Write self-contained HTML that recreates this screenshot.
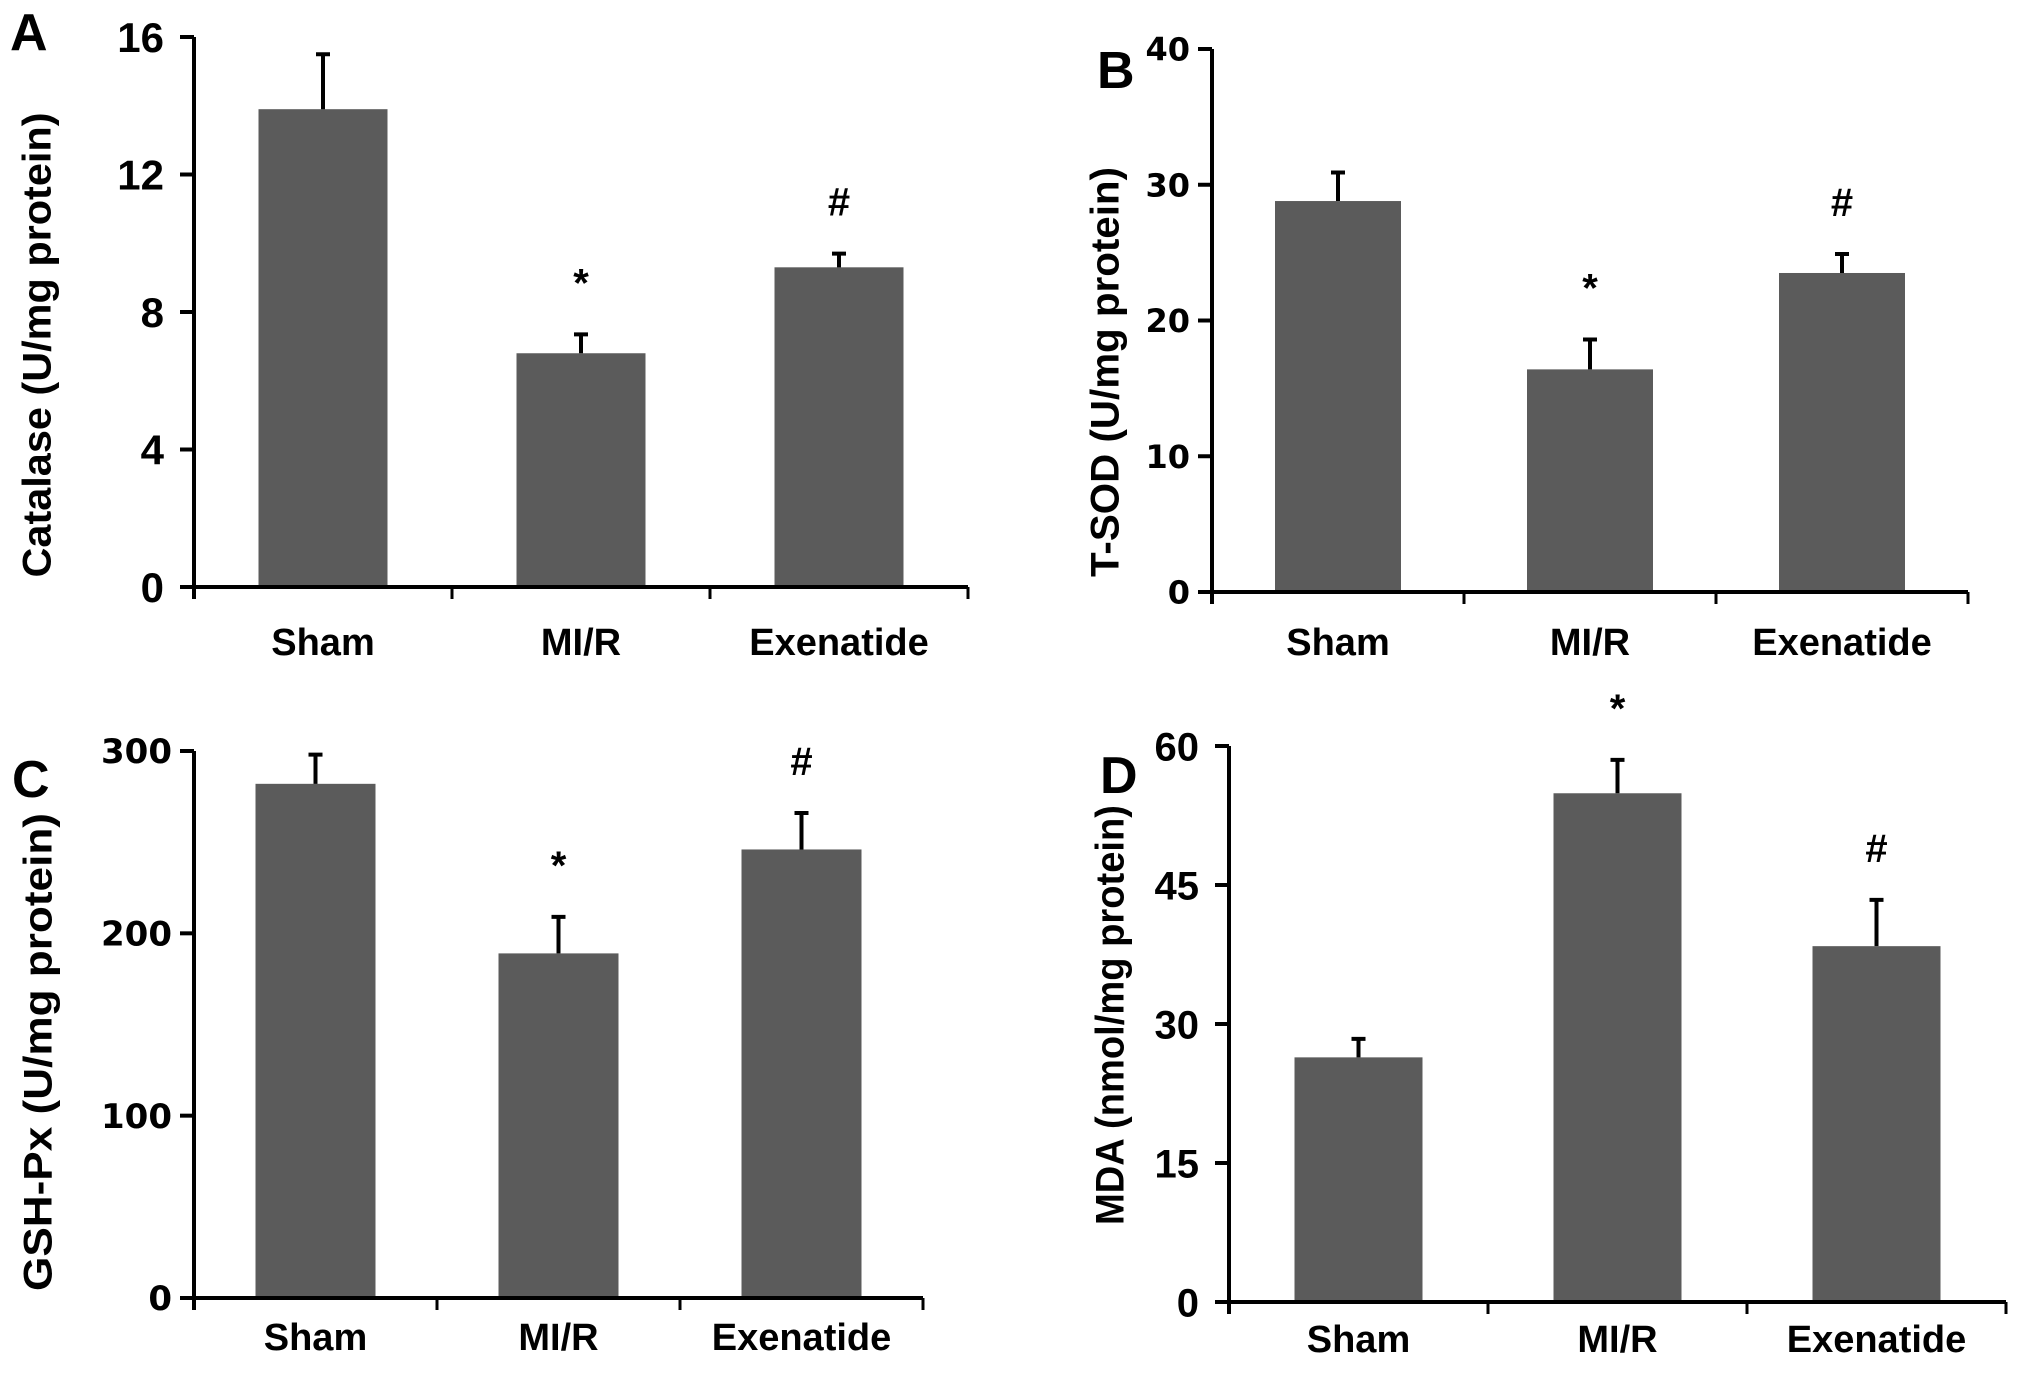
<!DOCTYPE html>
<html><head><meta charset="utf-8"><style>
html,body{margin:0;padding:0;background:#fff;}
svg{display:block;font-family:"Liberation Sans",Arial,sans-serif;font-weight:bold;}
</style></head><body>
<svg id="fig" width="2031" height="1378" viewBox="0 0 2031 1378" xmlns="http://www.w3.org/2000/svg"></svg>
<script>
const categories = ["Sham", "MI/R", "Exenatide"];
const catalaseValues = [13.9, 6.8, 9.3];
const catalaseErrors = [1.6, 0.55, 0.4];
const catalaseMarks = ["", "*", "#"];
const catalaseTicks = [0, 4, 8, 12, 16];
const sodValues = [28.8, 16.4, 23.5];
const sodErrors = [2.1, 2.2, 1.4];
const sodMarks = ["", "*", "#"];
const sodTicks = [0, 10, 20, 30, 40];
const gshValues = [282, 189, 246];
const gshErrors = [16, 20, 20];
const gshMarks = ["", "*", "#"];
const gshTicks = [0, 100, 200, 300];
const mdaValues = [26.4, 54.9, 38.4];
const mdaErrors = [2.0, 3.6, 5.0];
const mdaMarks = ["", "*", "#"];
const mdaTicks = [0, 15, 30, 45, 60];

const NS = "http://www.w3.org/2000/svg";
const svg = document.getElementById("fig");
function mk(tag, attrs, parent) {
  const e = document.createElementNS(NS, tag);
  for (const k in attrs) e.setAttribute(k, attrs[k]);
  (parent || svg).appendChild(e);
  return e;
}

const panels = [
  {id:"a", letter:"A", lx:10, ly:50, title:"Catalase (U/mg protein)", tx:40, ty:345, tlen:465,
   ax:194, y0:587, y1:37, catW:258, barW:129, values:catalaseValues, errors:catalaseErrors, marks:catalaseMarks, ticks:catalaseTicks, labY:655, markOff:[0,38,38], tfont:'"Liberation Sans", sans-serif', tsize:42, tgap:30},
  {id:"b", letter:"B", lx:1097, ly:88, title:"T-SOD (U/mg protein)", tx:1108, ty:372, tlen:410,
   ax:1212, y0:592, y1:49, catW:252, barW:126, values:sodValues, errors:sodErrors, marks:sodMarks, ticks:sodTicks, labY:655, markOff:[0,38,38], tfont:'"DejaVu Sans", sans-serif', tsize:32, tgap:22},
  {id:"c", letter:"C", lx:12, ly:797, title:"GSH-Px (U/mg protein)", tx:41, ty:1052, tlen:478,
   ax:194, y0:1298, y1:751, catW:243, barW:120, values:gshValues, errors:gshErrors, marks:gshMarks, ticks:gshTicks, labY:1350, markOff:[0,38,38], tfont:'"DejaVu Sans", sans-serif', tsize:34, tgap:22},
  {id:"d", letter:"D", lx:1100, ly:793, title:"MDA (nmol/mg protein)", tx:1113, ty:1015, tlen:420,
   ax:1229, y0:1302, y1:746, catW:259, barW:128, values:mdaValues, errors:mdaErrors, marks:mdaMarks, ticks:mdaTicks, labY:1352, markOff:[0,38,38], tfont:'"Liberation Sans", sans-serif', tsize:40, tgap:30}
];

panels.forEach(p => {
  const g = mk("g", {});
  
  
  const maxV = p.ticks[p.ticks.length - 1];
  const yS = v => p.y0 - (v / maxV) * (p.y0 - p.y1);
  const xC = i => p.ax + p.catW * (i + 0.5);

  const L = mk("text", {x:p.lx, y:p.ly, "font-size":52, fill:"#000"}, g);
  L.textContent = p.letter;
  
  

  const T = mk("text", {x:p.tx, y:p.ty, "font-size":40, fill:"#000", "text-anchor":"middle",
    textLength:p.tlen, lengthAdjust:"spacingAndGlyphs",
    transform:`rotate(-90 ${p.tx} ${p.ty})`, "dominant-baseline":"middle"}, g);
  T.textContent = p.title;
  
  

  p.values.forEach((v, i) => {
    const x = xC(i) - p.barW / 2;
    const r = mk("rect", {x:x, y:yS(v), width:p.barW, height:p.y0 - yS(v), fill:"#5b5b5b"}, g);
    
    
    const top = yS(v + p.errors[i]);
    const e = mk("path", {d:`M${xC(i)},${yS(v)}V${top}M${xC(i)-7},${top}H${xC(i)+7}`, stroke:"#000", "stroke-width":4, fill:"none"}, g);
    
    
    const m = p.marks[i];
    if (m) {
      const t = mk("text", {x:xC(i), y:top - p.markOff[i], "font-size":40, "text-anchor":"middle", fill:"#000"}, g);
      t.textContent = m;
      
      
    }
  });

  const endX = p.ax + p.catW * categories.length;
  const ya = mk("line", {x1:p.ax, y1:p.y1, x2:p.ax, y2:p.y0 + 12, stroke:"#000", "stroke-width":4}, g);
  
  
  const xa = mk("line", {x1:p.ax - 14, y1:p.y0, x2:endX, y2:p.y0, stroke:"#000", "stroke-width":4}, g);
  
  

  p.ticks.forEach(t => {
    const y = yS(t);
    mk("line", {x1:p.ax - 14, y1:y, x2:p.ax, y2:y, stroke:"#000", "stroke-width":4}, g);
    const tl = mk("text", {x:p.ax - p.tgap, y:y + p.tsize * 0.36, "font-size":p.tsize, "font-family":p.tfont, "text-anchor":"end", fill:"#000"}, g);
    tl.textContent = t;
    
    
  });
  for (let i = 1; i <= categories.length; i++) {
    const x = p.ax + p.catW * i;
    mk("line", {x1:x, y1:p.y0, x2:x, y2:p.y0 + 12, stroke:"#000", "stroke-width":3}, g);
  }
  categories.forEach((c, i) => {
    const cl = mk("text", {x:xC(i), y:p.labY, "font-size":38, "text-anchor":"middle", fill:"#000"}, g);
    cl.textContent = c;
    
    
  });
});
</script>
</body></html>
